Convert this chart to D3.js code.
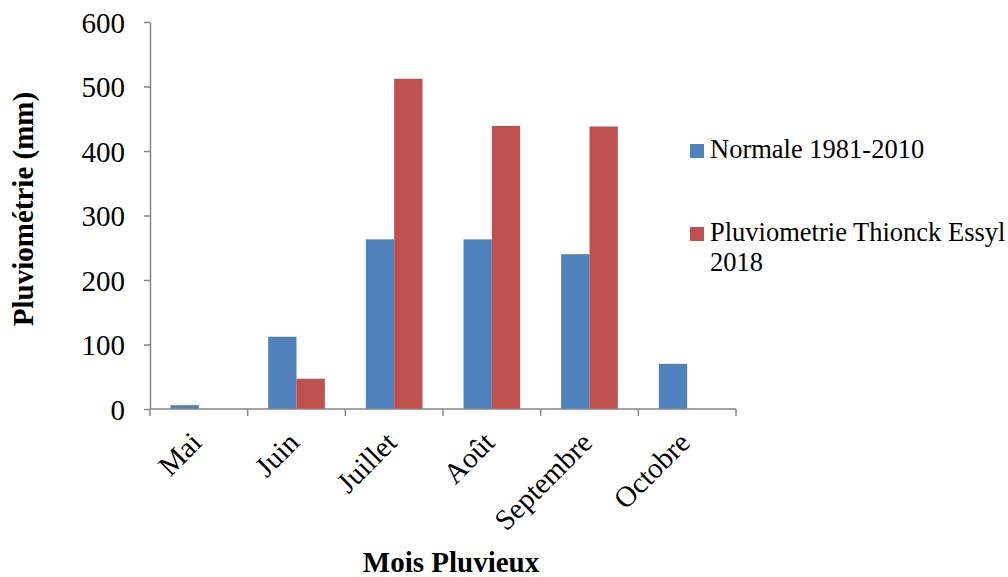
<!DOCTYPE html>
<html>
<head>
<meta charset="utf-8">
<script src="https://cdn.jsdelivr.net/npm/d3@7"></script>
<style>
  body { margin: 0; background: #fff; }
  svg { display: block; }
  text { font-family: "Liberation Serif", "Times New Roman", serif; fill: #000; }
</style>
</head>
<body>
<svg id="chart" width="1008" height="577"></svg>
<script>
// Monthly rainfall (mm)
const months = ["Mai", "Juin", "Juillet", "Août", "Septembre", "Octobre"];
const normale = [6, 112, 263, 263, 240, 70];
const pluvio2018 = [0, 47, 512, 439, 438, 0];
const seriesNames = ["Normale 1981-2010", "Pluviometrie Thionck Essyl 2018"];
const seriesColors = ["#4F81BD", "#C0504D"];
const yTicks = [0, 100, 200, 300, 400, 500, 600];

(function () {
const svg = d3.select("#chart");
const plotLeft = 150, plotRight = 736, plotTop = 22, plotBottom = 409;
const axisColor = "#868686";

const x = d3.scaleBand().domain(months).range([plotLeft, plotRight]).padding(0);
const y = d3.scaleLinear().domain([0, 600]).range([plotBottom, plotTop]);
const barW = x.bandwidth() * 0.29;
const sub = d3.scaleBand().domain([0, 1]).range([-barW, barW]);

// Bars
const series = [normale, pluvio2018];
series.forEach((vals, si) => {
  svg.append("g").selectAll("rect")
    .data(months.map((m, i) => ({ m, v: vals[i] })))
    .join("rect")
    .attr("x", d => x(d.m) + x.bandwidth() / 2 + sub(si))
    .attr("width", sub.bandwidth())
    .attr("y", d => y(d.v))
    .attr("height", d => y(0) - y(d.v))
    .attr("fill", seriesColors[si]);
});

// Y axis
const yAxis = svg.append("g")
  .attr("transform", `translate(${plotLeft},0)`)
  .call(d3.axisLeft(y).tickValues(yTicks).tickSize(6).tickPadding(19).tickSizeOuter(0));
yAxis.selectAll("text").style("font-size", "29px").attr("dy", "0.35em");
yAxis.selectAll("line, path").attr("stroke", axisColor).attr("stroke-width", 1.5);

// X axis: tick marks at category boundaries
const xAxis = svg.append("g").attr("transform", `translate(0,${plotBottom})`);
xAxis.append("line").attr("x1", plotLeft).attr("x2", plotRight).attr("stroke", axisColor).attr("stroke-width", 1.5);
const bounds = months.map(m => x(m)).concat([plotRight]);
xAxis.selectAll("line.tick").data(bounds).join("line")
  .attr("class", "tick")
  .attr("x1", d => d).attr("x2", d => d)
  .attr("y1", 0).attr("y2", 7)
  .attr("stroke", axisColor).attr("stroke-width", 1.5);
xAxis.selectAll("text").data(months).join("text")
  .attr("transform", d => `translate(${x(d) + x.bandwidth() / 2 - 10},${21}) rotate(-45)`)
  .attr("text-anchor", "end")
  .attr("dy", "0.7em")
  .style("font-size", "29px")
  .text(d => d);

// Axis titles
svg.append("text")
  .attr("transform", `translate(33,209) rotate(-90)`)
  .attr("text-anchor", "middle")
  .style("font-size", "29px").style("font-weight", "bold")
  .text("Pluviométrie (mm)");
svg.append("text")
  .attr("x", 451).attr("y", 572)
  .attr("text-anchor", "middle")
  .style("font-size", "29px").style("font-weight", "bold")
  .text("Mois Pluvieux");

// Legend
const legend = svg.append("g");
const legendRows = [
  { y: 158, lines: [seriesNames[0]] },
  { y: 241, lines: ["Pluviometrie Thionck Essyl", "2018"] }
];
legendRows.forEach((r, i) => {
  legend.append("rect").attr("x", 690).attr("y", r.y - 14).attr("width", 14).attr("height", 14)
    .attr("fill", seriesColors[i]);
  r.lines.forEach((t, j) => {
    legend.append("text").attr("x", 710).attr("y", r.y + j * 30)
      .style("font-size", "26.5px").text(t);
  });
});
})();
</script>
</body>
</html>
